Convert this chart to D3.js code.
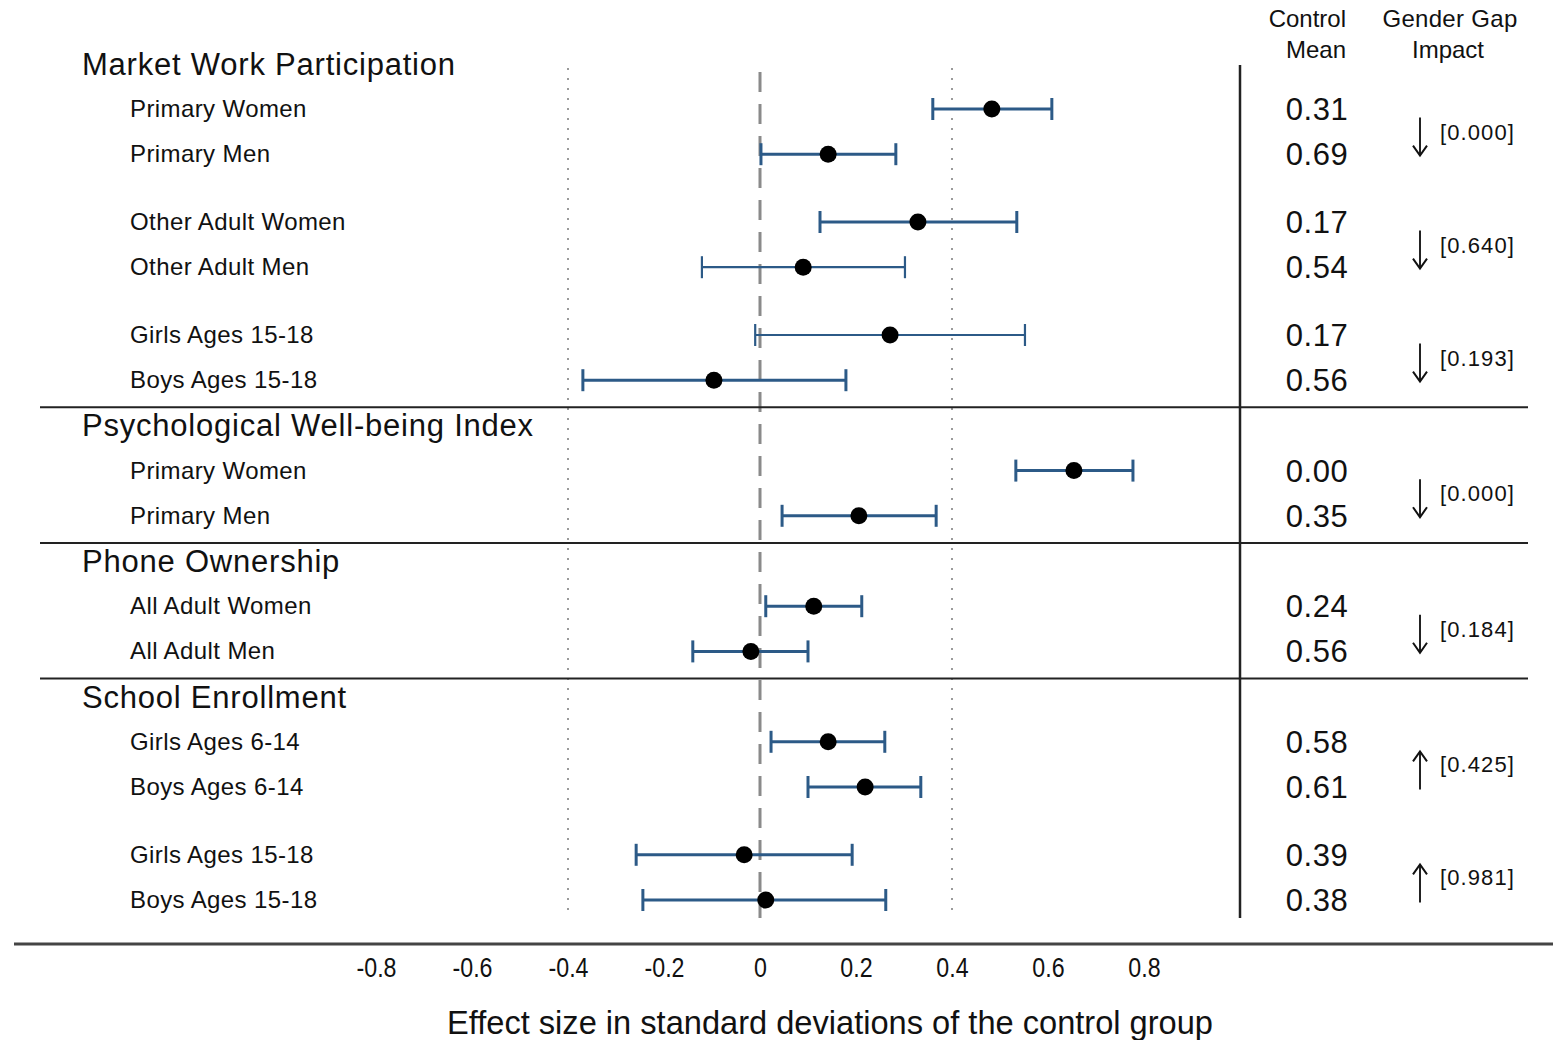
<!DOCTYPE html>
<html lang="en">
<head>
<meta charset="UTF-8">
<script src="https://d3js.org/d3.v7.min.js"></script>
<title>Effect sizes</title>
<style>
  body { margin: 0; background: #fff; }
  text { font-family: "Liberation Sans", Arial, sans-serif; fill: #111; }
</style>
</head>
<body>
<div id="chart"></div>
<script>
const width = 1563, height = 1040;

// data
const sections = ["Market Work Participation", "Psychological Well-being Index", "Phone Ownership", "School Enrollment"];
const labels = ["Primary Women", "Primary Men", "Other Adult Women", "Other Adult Men",
  "Girls Ages 15-18", "Boys Ages 15-18", "Primary Women", "Primary Men",
  "All Adult Women", "All Adult Men", "Girls Ages 6-14", "Boys Ages 6-14",
  "Girls Ages 15-18", "Boys Ages 15-18"];
const sectionOf = [0, 0, 0, 0, 0, 0, 1, 1, 2, 2, 3, 3, 3, 3];
const estimates = [0.483, 0.142, 0.329, 0.090, 0.271, -0.096, 0.654, 0.206, 0.112, -0.019, 0.142, 0.219, -0.033, 0.012];
const ciLow = [0.360, 0.002, 0.125, -0.121, -0.010, -0.369, 0.533, 0.046, 0.012, -0.140, 0.023, 0.100, -0.258, -0.244];
const ciHigh = [0.608, 0.283, 0.535, 0.302, 0.552, 0.179, 0.777, 0.367, 0.212, 0.100, 0.260, 0.335, 0.192, 0.262];
const controlMeans = ["0.31", "0.69", "0.17", "0.54", "0.17", "0.56", "0.00", "0.35", "0.24", "0.56", "0.58", "0.61", "0.39", "0.38"];
const gapP = ["[0.000]", "[0.640]", "[0.193]", "[0.000]", "[0.184]", "[0.425]", "[0.981]"];
const gapDir = ["down", "down", "down", "down", "down", "up", "up"];
const xTicks = [-0.8, -0.6, -0.4, -0.2, 0, 0.2, 0.4, 0.6, 0.8];

// slot layout: pairs, gaps between pairs, header rows between sections
const slots = [];
let cursor = 0;
labels.forEach((l, i) => {
  if (i > 0) {
    if (sectionOf[i] !== sectionOf[i - 1]) cursor += 2;
    else if (i % 2 === 0) cursor += 1.5;
    else cursor += 1;
  }
  slots.push(cursor);
});

const x = d3.scaleLinear().domain([0, 0.8]).range([760, 1144]);
const y = d3.scaleLinear().domain([0, 17.5]).range([109, 900]);

const svg = d3.select("#chart").append("svg")
  .attr("width", width).attr("height", height);

const yTop = 68, yBottom = 918;

// reference lines
svg.append("g").selectAll("line")
  .data([-0.4, 0.4])
  .enter().append("line")
  .attr("x1", d => x(d)).attr("x2", d => x(d))
  .attr("y1", yTop).attr("y2", yBottom)
  .attr("stroke", "#9a9a9a").attr("stroke-width", 2)
  .attr("stroke-dasharray", "2 8");

svg.append("line")
  .attr("x1", x(0)).attr("x2", x(0))
  .attr("y1", 72).attr("y2", yBottom)
  .attr("stroke", "#8a8a8a").attr("stroke-width", 3)
  .attr("stroke-dasharray", "20 12");

// section headers and separators
const firstRow = sections.map((s, k) => sectionOf.indexOf(k));
svg.append("g").selectAll("text")
  .data(sections)
  .enter().append("text")
  .attr("x", 82)
  .attr("y", (d, k) => y(slots[firstRow[k]] - 1) + 11)
  .attr("font-size", 31)
  .attr("letter-spacing", 0.78)
  .text(d => d);

svg.append("g").selectAll("line")
  .data(sections.slice(1))
  .enter().append("line")
  .attr("x1", 40).attr("x2", 1528)
  .attr("y1", (d, k) => y(slots[firstRow[k + 1]] - 1.4))
  .attr("y2", (d, k) => y(slots[firstRow[k + 1]] - 1.4))
  .attr("stroke", "#222").attr("stroke-width", 2);

// right column divider
svg.append("line")
  .attr("x1", 1240).attr("x2", 1240)
  .attr("y1", 65).attr("y2", yBottom)
  .attr("stroke", "#222").attr("stroke-width", 2.5);

// row labels
svg.append("g").selectAll("text")
  .data(labels)
  .enter().append("text")
  .attr("x", 130)
  .attr("y", (d, i) => y(slots[i]) + 8)
  .attr("font-size", 24)
  .attr("letter-spacing", 0.4)
  .text(d => d);

// error bars
const barColor = "#2c5a87";
const thin = [3, 4];
const bars = svg.append("g").selectAll("g")
  .data(estimates)
  .enter().append("g")
  .attr("stroke", barColor)
  .attr("stroke-width", (d, i) => thin.includes(i) ? 2.2 : 3);

bars.append("line")
  .attr("x1", (d, i) => x(ciLow[i])).attr("x2", (d, i) => x(ciHigh[i]))
  .attr("y1", (d, i) => y(slots[i])).attr("y2", (d, i) => y(slots[i]));
bars.append("line")
  .attr("x1", (d, i) => x(ciLow[i])).attr("x2", (d, i) => x(ciLow[i]))
  .attr("y1", (d, i) => y(slots[i]) - 11).attr("y2", (d, i) => y(slots[i]) + 11);
bars.append("line")
  .attr("x1", (d, i) => x(ciHigh[i])).attr("x2", (d, i) => x(ciHigh[i]))
  .attr("y1", (d, i) => y(slots[i]) - 11).attr("y2", (d, i) => y(slots[i]) + 11);

svg.append("g").selectAll("circle")
  .data(estimates)
  .enter().append("circle")
  .attr("cx", d => x(d))
  .attr("cy", (d, i) => y(slots[i]))
  .attr("r", 8.5)
  .attr("fill", "#000");

// column headers
svg.append("text").attr("x", 1346).attr("y", 27).attr("text-anchor", "end")
  .attr("font-size", 24).text("Control");
svg.append("text").attr("x", 1346).attr("y", 58).attr("text-anchor", "end")
  .attr("font-size", 24).text("Mean");
svg.append("text").attr("x", 1450).attr("y", 27).attr("text-anchor", "middle")
  .attr("font-size", 24).attr("letter-spacing", 0.3).text("Gender Gap");
svg.append("text").attr("x", 1448).attr("y", 58).attr("text-anchor", "middle")
  .attr("font-size", 24).text("Impact");

// control means column
svg.append("g").selectAll("text")
  .data(controlMeans)
  .enter().append("text")
  .attr("x", 1317)
  .attr("y", (d, i) => y(slots[i]) + 11)
  .attr("text-anchor", "middle")
  .attr("font-size", 31)
  .attr("letter-spacing", 0.5)
  .text(d => d);

// gender gap arrows + p-values
const pairY = gapP.map((p, k) => (y(slots[2 * k]) + y(slots[2 * k + 1])) / 2);
const gap = svg.append("g").selectAll("g")
  .data(gapP)
  .enter().append("g")
  .attr("transform", (d, k) => `translate(0,${pairY[k]})`);

gap.append("line")
  .attr("x1", 1420).attr("x2", 1420)
  .attr("y1", (d, k) => gapDir[k] === "down" ? -14 : -13)
  .attr("y2", (d, k) => gapDir[k] === "down" ? 23 : 25)
  .attr("stroke", "#222").attr("stroke-width", 2);
gap.append("path")
  .attr("d", (d, k) => gapDir[k] === "down"
    ? "M1413,14 L1420,24 L1427,14"
    : "M1413,-3 L1420,-13 L1427,-3")
  .attr("fill", "none").attr("stroke", "#111").attr("stroke-width", 2);
gap.append("text")
  .attr("x", 1440).attr("y", 8)
  .attr("font-size", 22)
  .attr("letter-spacing", 1.1)
  .text(d => d);

// x axis
svg.append("line")
  .attr("x1", 14).attr("x2", 1553)
  .attr("y1", 944).attr("y2", 944)
  .attr("stroke", "#444").attr("stroke-width", 3);

const axis = svg.append("g")
  .attr("transform", "translate(0,955)")
  .call(d3.axisBottom(x).tickValues(xTicks).tickSize(0)
    .tickFormat(d => d === 0 ? "0" : d.toFixed(1)));
axis.select(".domain").remove();
axis.selectAll("text")
  .attr("font-size", 27)
  .attr("fill", "#111")
  .attr("transform", "scale(0.86,1)")
  .style("font-family", "'Liberation Sans', Arial, sans-serif");

svg.append("text")
  .attr("x", 830).attr("y", 1034)
  .attr("text-anchor", "middle")
  .attr("font-size", 33)
  .attr("textLength", 766)
  .attr("lengthAdjust", "spacingAndGlyphs")
  .text("Effect size in standard deviations of the control group");
</script>
</body>
</html>
